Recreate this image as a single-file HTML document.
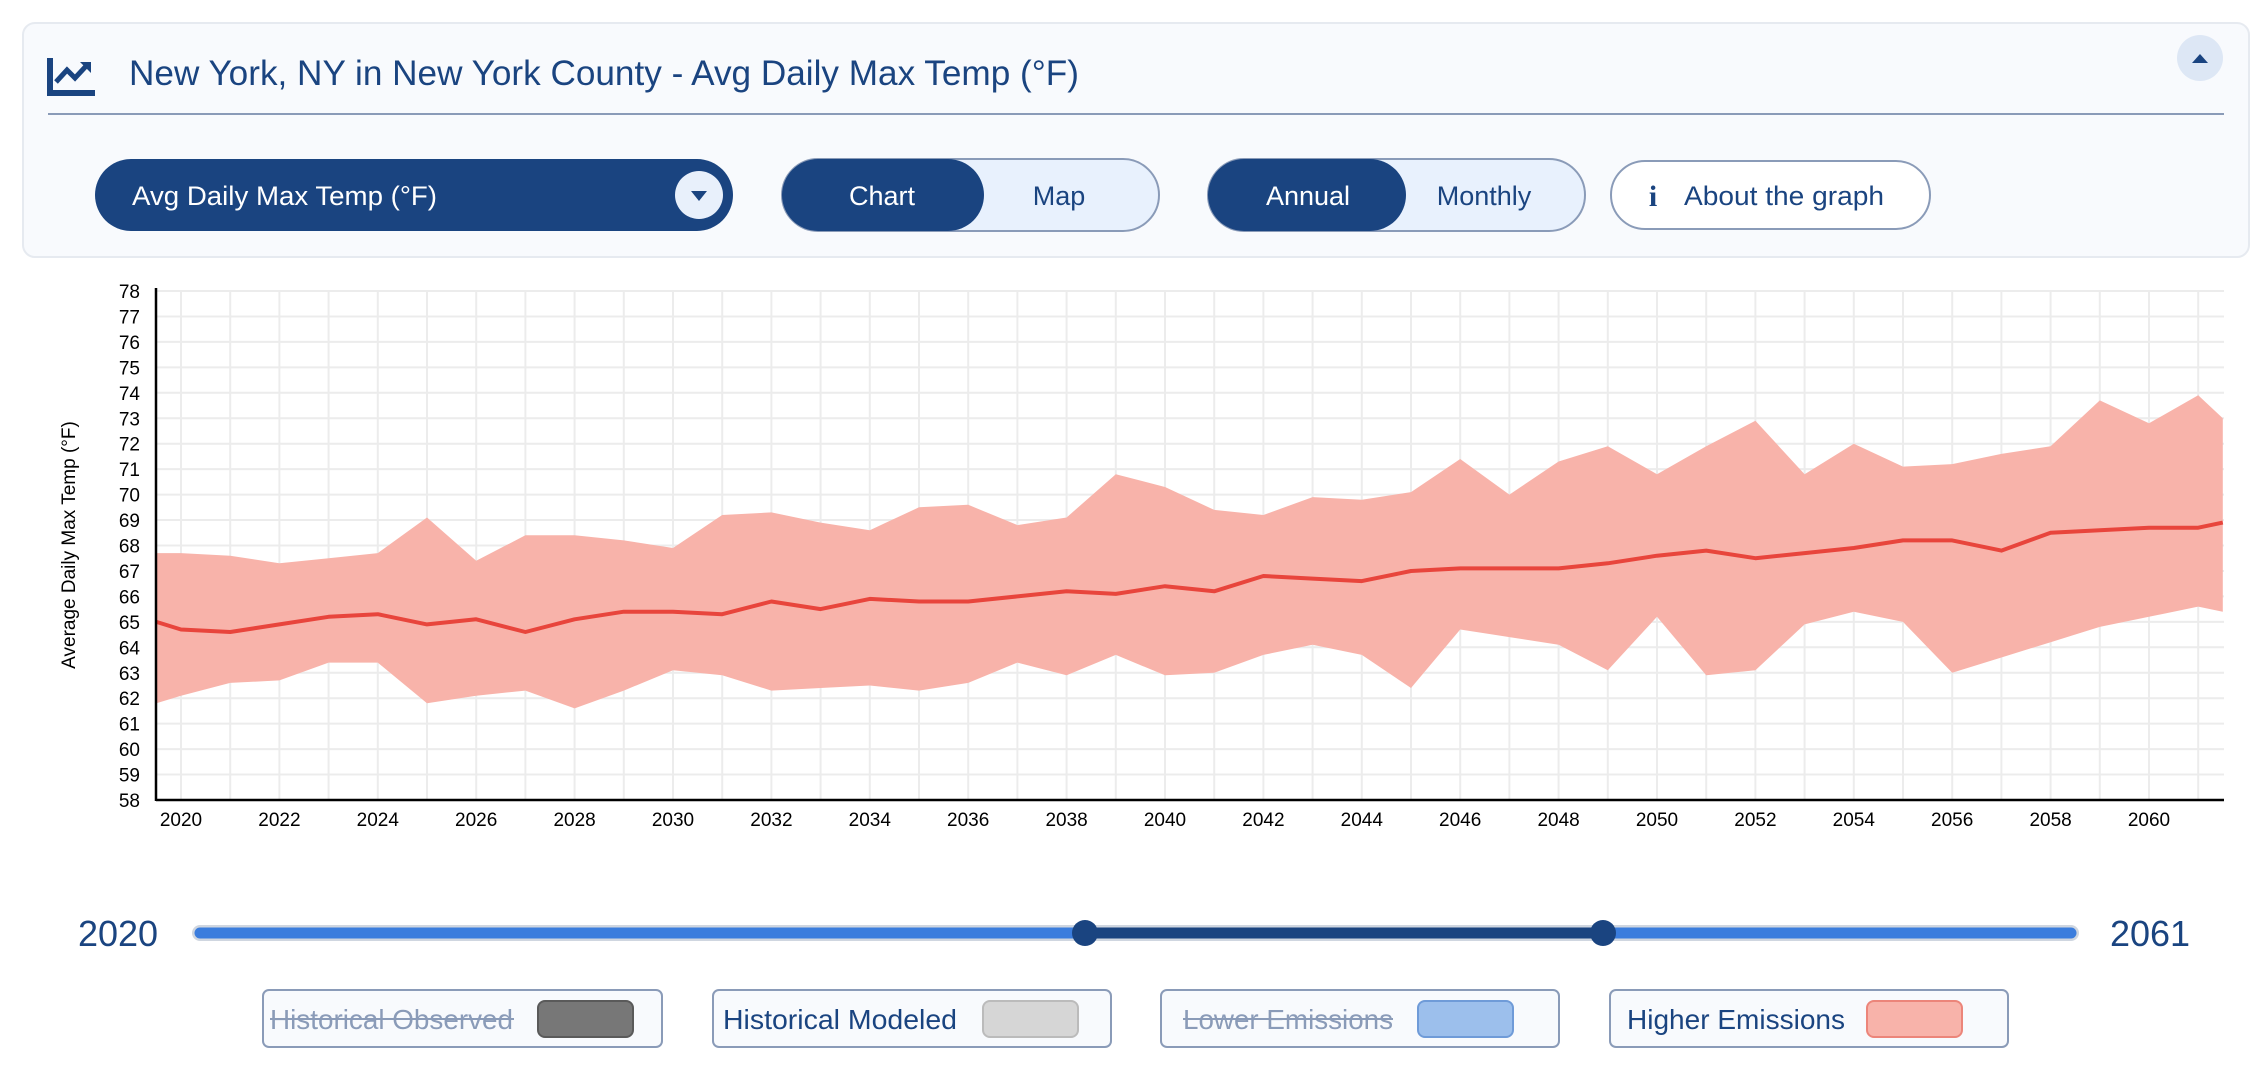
<!DOCTYPE html>
<html><head><meta charset="utf-8"><style>
html,body{margin:0;padding:0;background:#fff;}
svg{display:block;font-family:"Liberation Sans",sans-serif;}
</style></head><body>
<svg id="s" width="2268" height="1078" viewBox="0 0 2268 1078" xmlns="http://www.w3.org/2000/svg">
<rect x="0" y="0" width="2268" height="1078" fill="#fff"/>
<rect x="23" y="23" width="2226" height="234" rx="12" fill="#f8fafd" stroke="#e6eaf0" stroke-width="2"/>
<path d="M50 58 V93 H95" fill="none" stroke="#1a4480" stroke-width="6"/>
<path d="M56 82 L67 70 L75 78 L88 64" fill="none" stroke="#1a4480" stroke-width="5"/>
<path d="M80 62 L91 62 L91 73 Z" fill="#1a4480"/>
<text x="129" y="85" font-size="35" fill="#1a4480" textLength="950" lengthAdjust="spacingAndGlyphs">New York, NY in New York County - Avg Daily Max Temp (°F)</text>
<line x1="48" y1="114" x2="2224" y2="114" stroke="#8a9bb8" stroke-width="2"/>
<circle cx="2200" cy="58" r="23" fill="#dde7f5"/>
<path d="M2192 63 L2208 63 L2200 54 Z" fill="#1a4480"/>
<rect x="95" y="159" width="638" height="72" rx="36" fill="#1a4480"/>
<text x="132" y="205" font-size="27" fill="#fff" textLength="305" lengthAdjust="spacingAndGlyphs">Avg Daily Max Temp (°F)</text>
<circle cx="699" cy="195" r="24" fill="#e8f0fb"/>
<path d="M691 191 L707 191 L699 201 Z" fill="#1a4480"/>
<rect x="782" y="159" width="377" height="72" rx="36" fill="#e8f1fd" stroke="#8a9bb8" stroke-width="2"/>
<rect x="782" y="159" width="202" height="72" rx="36" fill="#1a4480"/>
<text x="882" y="205" font-size="27" fill="#fff" text-anchor="middle">Chart</text>
<text x="1059" y="205" font-size="27" fill="#1a4480" text-anchor="middle">Map</text>
<rect x="1208" y="159" width="377" height="72" rx="36" fill="#e8f1fd" stroke="#8a9bb8" stroke-width="2"/>
<rect x="1208" y="159" width="198" height="72" rx="36" fill="#1a4480"/>
<text x="1308" y="205" font-size="27" fill="#fff" text-anchor="middle">Annual</text>
<text x="1484" y="205" font-size="27" fill="#1a4480" text-anchor="middle">Monthly</text>
<rect x="1611" y="161" width="319" height="68" rx="34" fill="#fff" stroke="#8a9bb8" stroke-width="2"/>
<text x="1653" y="206" font-size="30" font-weight="bold" fill="#1a4480" text-anchor="middle" font-family="Liberation Serif,serif">i</text>
<text x="1684" y="205" font-size="27" fill="#1a4480" textLength="200" lengthAdjust="spacingAndGlyphs">About the graph</text>
<g id="chart"></g>
<text x="118" y="946" font-size="36" fill="#1a4480" text-anchor="middle">2020</text>
<text x="2150" y="946" font-size="36" fill="#1a4480" text-anchor="middle">2061</text>
<line x1="200" y1="933" x2="2071" y2="933" stroke="#cfd6e0" stroke-width="16" stroke-linecap="round"/>
<line x1="200" y1="933" x2="2071" y2="933" stroke="#3b7ddd" stroke-width="11" stroke-linecap="round"/>
<line x1="1085" y1="933" x2="1603" y2="933" stroke="#1a4480" stroke-width="11"/>
<circle cx="1085" cy="933" r="13" fill="#1a4480"/>
<circle cx="1603" cy="933" r="13" fill="#1a4480"/>
<g font-size="28">
<rect x="263" y="990" width="399" height="57" rx="6" fill="#f8fafd" stroke="#8a9bb8" stroke-width="2"/>
<text x="270" y="1029" fill="#8a9bb8" textLength="243" lengthAdjust="spacingAndGlyphs">Historical Observed</text>
<line x1="270" y1="1019" x2="514" y2="1019" stroke="#8a9bb8" stroke-width="2"/>
<rect x="538" y="1001" width="95" height="36" rx="7" fill="#777" stroke="#5a5a5a" stroke-width="2"/>
<rect x="713" y="990" width="398" height="57" rx="6" fill="#f8fafd" stroke="#8a9bb8" stroke-width="2"/>
<text x="723" y="1029" fill="#1a4480" textLength="234" lengthAdjust="spacingAndGlyphs">Historical Modeled</text>
<rect x="983" y="1001" width="95" height="36" rx="7" fill="#d6d6d6" stroke="#bbb" stroke-width="2"/>
<rect x="1161" y="990" width="398" height="57" rx="6" fill="#f8fafd" stroke="#8a9bb8" stroke-width="2"/>
<text x="1183" y="1029" fill="#8a9bb8" textLength="210" lengthAdjust="spacingAndGlyphs">Lower Emissions</text>
<line x1="1183" y1="1019" x2="1393" y2="1019" stroke="#8a9bb8" stroke-width="2"/>
<rect x="1418" y="1001" width="95" height="36" rx="7" fill="#9cbfec" stroke="#6f9bd8" stroke-width="2"/>
<rect x="1610" y="990" width="398" height="57" rx="6" fill="#f8fafd" stroke="#8a9bb8" stroke-width="2"/>
<text x="1627" y="1029" fill="#1a4480" textLength="218" lengthAdjust="spacingAndGlyphs">Higher Emissions</text>
<rect x="1867" y="1001" width="95" height="36" rx="7" fill="#f8b3aa" stroke="#ec857a" stroke-width="2"/>
</g>
</svg>
<script>
(function(){
var g=document.getElementById('chart');var NS='http://www.w3.org/2000/svg';
function el(t,a,txt){var e=document.createElementNS(NS,t);for(var k in a)e.setAttribute(k,a[k]);if(txt!=null)e.textContent=txt;g.appendChild(e);return e;}
var x0=156,x1=2224,y78=291,y58=800;
function X(yr){return 181+(yr-2020)*49.2;}
function Y(v){return y58-(v-58)*(y58-y78)/20;}
for(var v=58;v<=78;v++){el('line',{x1:x0,x2:x1,y1:Y(v),y2:Y(v),stroke:'#ececec','stroke-width':2});
 el('text',{x:140,y:Y(v)+7,'font-size':19,'text-anchor':'end',fill:'#000'},v);}
for(var yr=2020;yr<=2061;yr++){el('line',{x1:X(yr),x2:X(yr),y1:y78,y2:y58,stroke:'#ececec','stroke-width':2});
 if(yr%2==0)el('text',{x:X(yr),y:826,'font-size':19,'text-anchor':'middle',fill:'#000'},yr);}
var yrs=[2019.5];for(var i=2020;i<=2061;i++)yrs.push(i);yrs.push(2061.5);
var mean=[65.0,64.7,64.6,64.9,65.2,65.3,64.9,65.1,64.6,65.1,65.4,65.4,65.3,65.8,65.5,65.9,65.8,65.8,66.0,66.2,66.1,66.4,66.2,66.8,66.7,66.6,67.0,67.1,67.1,67.1,67.3,67.6,67.8,67.5,67.7,67.9,68.2,68.2,67.8,68.5,68.6,68.7,68.7,68.9];
var up=[67.7,67.7,67.6,67.3,67.5,67.7,69.1,67.4,68.4,68.4,68.2,67.9,69.2,69.3,68.9,68.6,69.5,69.6,68.8,69.1,70.8,70.3,69.4,69.2,69.9,69.8,70.1,71.4,70.0,71.3,71.9,70.8,71.9,72.9,70.8,72.0,71.1,71.2,71.6,71.9,73.7,72.8,73.9,73.0];
var lo=[61.8,62.1,62.6,62.7,63.4,63.4,61.8,62.1,62.3,61.6,62.3,63.1,62.9,62.3,62.4,62.5,62.3,62.6,63.4,62.9,63.7,62.9,63.0,63.7,64.1,63.7,62.4,64.7,64.4,64.1,63.1,65.2,62.9,63.1,64.9,65.4,65.0,63.0,63.6,64.2,64.8,65.2,65.6,65.4];
var xs=yrs.map(function(y){return Math.min(Math.max(X(y),x0),x1);});
var d='';for(var i=0;i<xs.length;i++)d+=(i?'L':'M')+xs[i].toFixed(1)+' '+Y(up[i]).toFixed(1);
for(var i=xs.length-1;i>=0;i--)d+='L'+xs[i].toFixed(1)+' '+Y(lo[i]).toFixed(1);
el('path',{d:d+'Z',fill:'#f8b3aa'});
var m='';for(var i=0;i<xs.length;i++)m+=(i?'L':'M')+xs[i].toFixed(1)+' '+Y(mean[i]).toFixed(1);
el('path',{d:m,fill:'none',stroke:'#e8453c','stroke-width':4,'stroke-linejoin':'round'});
el('line',{x1:x0,x2:x0,y1:y78-3,y2:y58+1,stroke:'#000','stroke-width':2.5});
el('line',{x1:x0,x2:x1,y1:y58,y2:y58,stroke:'#000','stroke-width':2.5});
el('text',{x:0,y:0,'font-size':19,'text-anchor':'middle',fill:'#000',transform:'translate(75,545) rotate(-90)'},'Average Daily Max Temp (°F)');
})();
</script>
</body></html>
